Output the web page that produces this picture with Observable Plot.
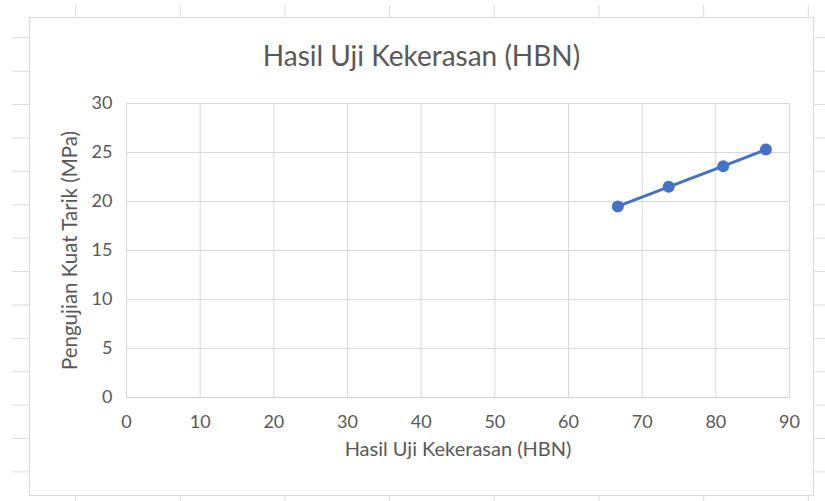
<!DOCTYPE html>
<html>
<head>
<meta charset="utf-8">
<script src="https://cdn.jsdelivr.net/npm/d3@7"></script>
<script src="https://cdn.jsdelivr.net/npm/@observablehq/plot@0.6"></script>
<style>
  html, body { margin: 0; padding: 0; background: #ffffff; }
  body { width: 825px; height: 501px; position: relative; overflow: hidden; font-family: Lato, "Open Sans", sans-serif; }
  #sheet {
    position: absolute; left: 12px; top: 5px; right: 0; bottom: 0;
    background-image:
      linear-gradient(to right, #dcdcdc 1px, transparent 1px),
      linear-gradient(to bottom, #dcdcdc 1px, transparent 1px);
    background-size: 104.7px 100%, 100% 33.4px;
    background-position: 63px 0, 0 32.3px;
  }
  #chart {
    position: absolute; left: 29px; top: 17px; width: 785px; height: 479px;
    box-sizing: border-box; border: 1px solid #d9d9d9; background: #ffffff;
  }
  #title {
    position: absolute; left: 0; right: 0; top: 17px; height: 40px; line-height: 40px;
    text-align: center; font-size: 28px; color: #595959;
  }
  #plot { position: absolute; left: 0; top: 68px; }
</style>
</head>
<body>
<div id="sheet"></div>
<div id="chart">
  <div id="title">Hasil Uji Kekerasan (HBN)</div>
  <div id="plot"></div>
</div>
<script>
const hardness = [66.7, 73.6, 81.0, 86.8];
const tensile = [19.5, 21.5, 23.6, 25.3];
const xTicks = [0, 10, 20, 30, 40, 50, 60, 70, 80, 90];
const yTicks = [0, 5, 10, 15, 20, 25, 30];
const xTitle = "Hasil Uji Kekerasan (HBN)";
const yTitle = "Pengujian Kuat Tarik (MPa)";

const data = hardness.map((h, i) => ({x: h, y: tensile[i]}));

const chart = Plot.plot({
  width: 783,
  height: 409,
  marginLeft: 96,
  marginRight: 24,
  marginTop: 17,
  marginBottom: 98,
  x: {domain: [0, 90]},
  y: {domain: [0, 30]},
  style: {fontFamily: "Lato, 'Open Sans', sans-serif", fontSize: "18px", color: "#595959", background: "transparent", overflow: "visible"},
  marks: [
    Plot.gridX(xTicks, {stroke: "#d9d9d9", strokeOpacity: 1, strokeWidth: 1}),
    Plot.gridY(yTicks, {stroke: "#d9d9d9", strokeOpacity: 1, strokeWidth: 1}),
    Plot.ruleY([0], {stroke: "#d0d0d0", strokeWidth: 1}),
    Plot.axisX(xTicks, {tickSize: 0, tickPadding: 18, label: null, fill: "#595959", fontSize: 18}),
    Plot.axisY(yTicks, {tickSize: 0, tickPadding: 14, label: null, fill: "#595959", fontSize: 18}),
    Plot.line(data, {x: "x", y: "y", stroke: "#4472c4", strokeWidth: 3}),
    Plot.dot(data, {x: "x", y: "y", r: 6, fill: "#4472c4", stroke: "none"}),
    Plot.text([xTitle], {text: d => d, frameAnchor: "bottom", dy: 58, fontSize: 20, textAnchor: "middle", fill: "#595959"}),
    Plot.text([yTitle], {text: d => d, frameAnchor: "left", dx: -56, rotate: -90, fontSize: 20.5, textAnchor: "middle", fill: "#595959"})
  ]
});
document.getElementById("plot").appendChild(chart);
</script>
</body>
</html>
